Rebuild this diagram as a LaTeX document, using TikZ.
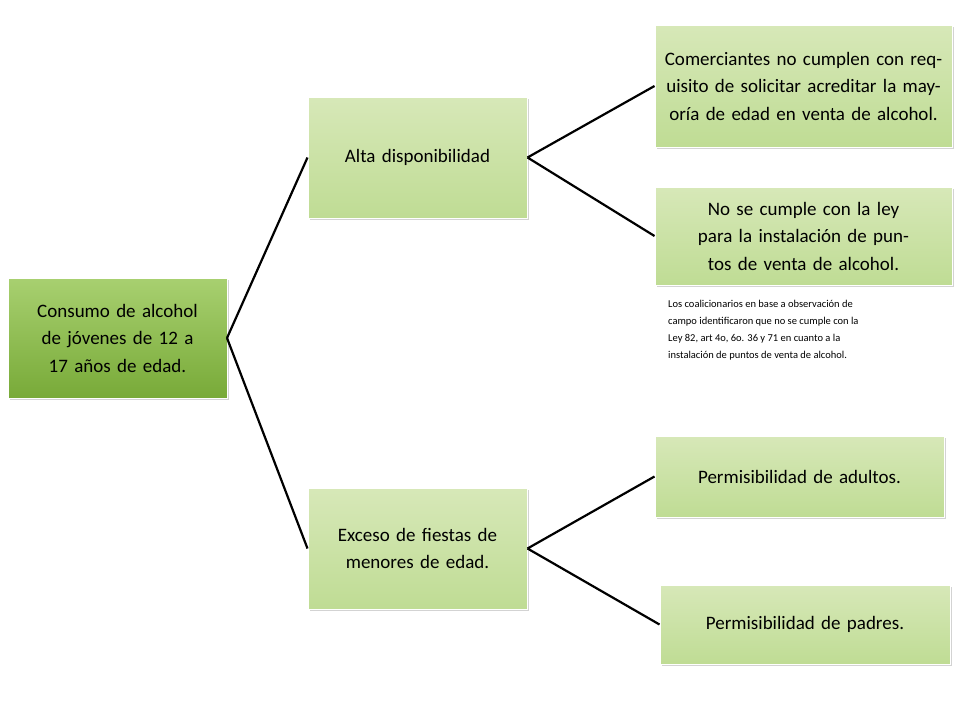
\documentclass[tikz,border=0pt]{standalone}
\usepackage{fontspec}
\setmainfont{Carlito}
\usetikzlibrary{shadows}
\definecolor{lgtop}{HTML}{D7E8B8}
\definecolor{lgbot}{HTML}{BFDC94}
\definecolor{dgtop}{HTML}{A8D070}
\definecolor{dgbot}{HTML}{78AA38}
\begin{document}
\begin{tikzpicture}[x=1pt,y=-1pt,
 box/.style={draw=white,line width=1pt,font=\fontsize{19}{27.5}\selectfont,align=center,inner sep=2pt,drop shadow={shadow xshift=2pt,shadow yshift=-2pt,opacity=.35}},
 lg/.style={box,top color=lgtop,bottom color=lgbot},
 dg/.style={box,top color=dgtop,bottom color=dgbot},
 link/.style={line width=2.2pt}]
\useasboundingbox (0,0) rectangle (960,720);
\node[dg,minimum width=219,minimum height=120,text width=205] (r) at (117.5,338) {Consumo de alcohol de jóvenes de 12 a 17 años de edad.};
\node[lg,minimum width=219,minimum height=121,text width=210] (a) at (417.5,157.5) {Alta disponibilidad};
\node[lg,minimum width=219,minimum height=121,text width=210] (b) at (417.5,548.5) {Exceso de fiestas de menores de edad.};
\node[lg,minimum width=297,minimum height=122,text width=285] (a1) at (803.5,86) {Comerciantes no cumplen con requisito de solicitar acreditar la mayoría de edad en venta de alcohol.};
\node[lg,minimum width=297,minimum height=98,text width=285] (a2) at (803.5,236) {No se cumple con la ley para la instalación de puntos de venta de alcohol.};
\node[lg,minimum width=289,minimum height=81,text width=280] (b1) at (799.5,476.5) {Permisibilidad de adultos.};
\node[lg,minimum width=290,minimum height=79,text width=280] (b2) at (805,624.5) {Permisibilidad de padres.};
\node[anchor=north west,align=left,font=\fontsize{10.5}{17}\selectfont,inner sep=0] (n) at (668,300) {Los coalicionarios en base a observación de\\campo identificaron que no se cumple con la\\Ley 82, art 4o, 6o. 36 y 71 en cuanto a la\\instalación de puntos de venta de alcohol.};
\coordinate (rr) at (227,338);
\draw[link] (rr) -- (a.west) (rr) -- (b.west);
\draw[link] (a.east) -- (a1.west) (a.east) -- (a2.west);
\draw[link] (b.east) -- (b1.west) (b.east) -- (b2.west);
\end{tikzpicture}
\end{document}
